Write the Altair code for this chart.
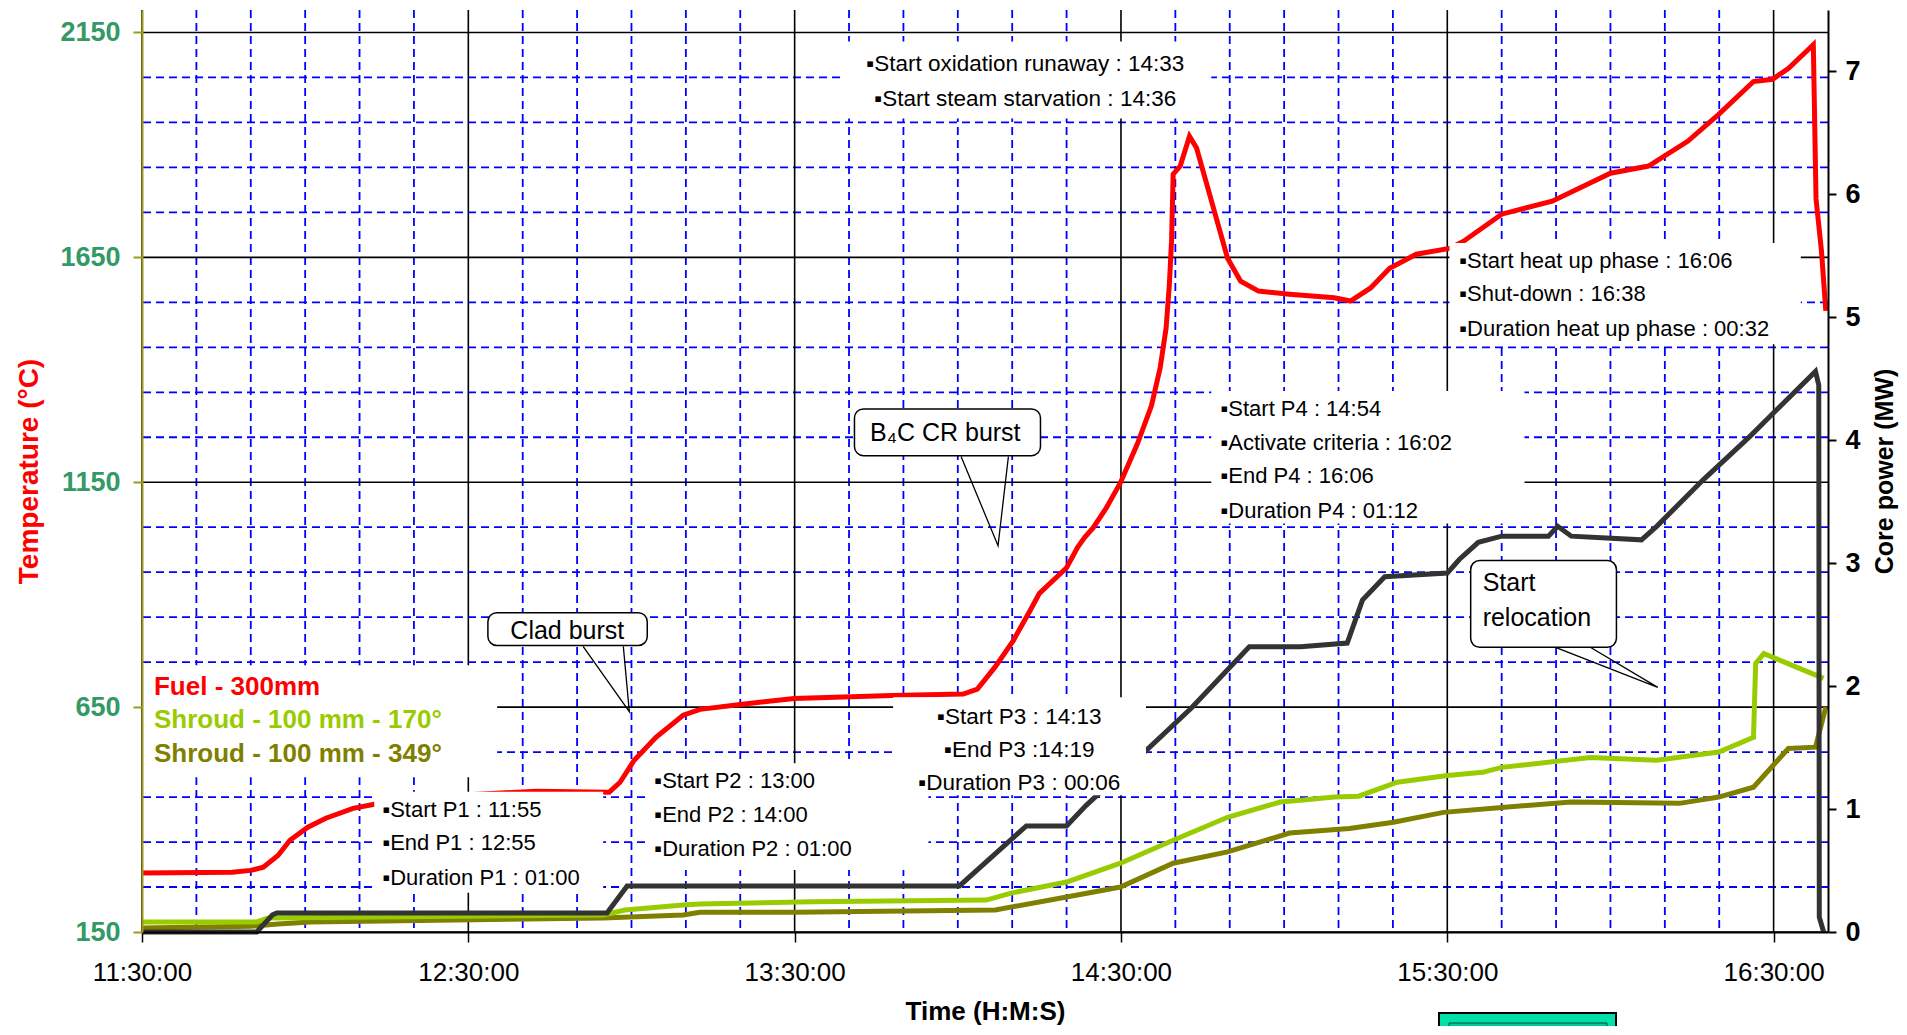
import json
import altair as alt
import pandas as pd

# ---------------- data (time = minutes after 11:30:00) ----------------
tick_minutes = [0, 60, 120, 180, 240, 300]
tick_labels = ["11:30:00", "12:30:00", "13:30:00", "14:30:00", "15:30:00", "16:30:00"]
temp_ticks = [150, 650, 1150, 1650, 2150]
power_ticks = [0, 1, 2, 3, 4, 5, 6, 7]

fuel_t = [0, 16.6, 20.0, 22.3, 25.0, 27.2, 30.5, 33.8, 38.8, 42.7, 50.0, 60.0, 72.5, 85.9, 87.9,
          90.5, 94.5, 99.5, 102.6, 110.0, 119.9, 137.9, 151.0, 153.6, 156.9, 160.2, 163.3, 165.0,
          170.0, 172.0, 173.3, 174.9, 177.3, 179.9, 183.0, 185.6, 187.2, 188.3, 188.9, 189.3, 189.6,
          190.9, 192.6, 193.9, 196.3, 199.6, 202.0, 205.3, 211.0, 219.2, 222.2, 225.9, 229.4, 234.3,
          240.4, 243.0, 250.0, 259.3, 270.0, 277.0, 284.2, 289.9, 296.3, 299.8, 302.7, 307.3, 307.8,
          308.8, 309.6]
fuel_v = [281, 283, 287, 294, 320, 354, 383, 403, 425, 434, 445, 455, 463, 461, 483,
          532, 583, 632, 645, 656, 669, 676, 679, 690, 740, 798, 865, 903,
          960, 1005, 1027, 1049, 1093, 1149, 1235, 1320, 1404, 1493, 1590, 1686, 1835,
          1853, 1919, 1893, 1790, 1648, 1597, 1575, 1568, 1560, 1553, 1582, 1626, 1657,
          1670, 1686, 1746, 1775, 1837, 1853, 1908, 1968, 2041, 2046, 2070, 2123, 1780,
          1664, 1531]

s170_t = [0, 21.0, 23.2, 84.8, 88.8, 99.5, 102.6, 123.2, 155.2, 160.0, 170.0, 179.9, 189.6, 199.6,
          209.3, 213.0, 219.2, 223.7, 230.8, 240.0, 246.5, 250.0, 266.3, 278.5, 289.9, 296.3, 296.7,
          298.2, 309.2]
s170_v = [172, 172, 181, 188, 199, 210, 212, 217, 221, 237, 261, 303, 354, 405,
          439, 443, 450, 452, 483, 498, 505, 516, 538, 532, 550, 583, 747,
          769, 714]

s349_t = [0, 20.0, 25.0, 31.0, 84.8, 99.5, 102.6, 119.9, 156.9, 170.0, 179.9, 189.6, 199.6, 211.0,
          222.0, 230.1, 239.3, 250.0, 262.8, 282.7, 289.9, 296.3, 302.7, 307.7, 309.6]
s349_v = [159, 163, 168, 172, 181, 188, 194, 194, 199, 228, 250, 303, 328, 370,
          380, 394, 416, 427, 439, 436, 450, 472, 558, 561, 650]

power_t = [0, 21.1, 24.0, 24.8, 85.5, 89.2, 150.3, 162.6, 170.0, 173.6, 184.7, 192.9, 203.6, 213.0,
           221.6, 224.4, 228.5, 240.0, 242.2, 245.7, 250.0, 258.6, 260.3, 262.8, 275.7, 278.5, 287.1,
           295.6, 307.7, 308.3, 308.4, 309.2]
power_v = [0, 0, 0.14, 0.155, 0.155, 0.375, 0.375, 0.863, 0.863, 1.03, 1.48, 1.82, 2.32, 2.32,
           2.35, 2.70, 2.89, 2.92, 3.03, 3.17, 3.22, 3.22, 3.30, 3.22, 3.19, 3.30, 3.68,
           4.03, 4.56, 4.45, 0.12, 0.0]

# white backgrounds of the text blocks (legend, P1, P2, P3, oxidation, P4, heat-up)
box_t1 = [0, 42.7, 92.9, 138.1, 128.8, 196.6, 240.4]
box_t2 = [65.3, 84.8, 144.6, 184.6, 196.6, 254.2, 305.0]
box_v1 = [494, 237, 288, 454, 1959, 1058, 1457]
box_v2 = [743, 462, 525, 672, 2130, 1353, 1682]

# callout bubbles
call_t1 = [63.6, 131.0, 244.3]
call_t2 = [92.9, 165.2, 271.1]
call_v1 = [787, 1209, 783]
call_v2 = [860, 1313, 976]
ptr_group = ["clad", "clad", "clad", "b4c", "b4c", "b4c", "reloc", "reloc", "reloc"]
ptr_t = [81.1, 89.6, 88.5, 150.6, 157.4, 159.3, 259.9, 278.7, 266.3]
ptr_v = [785, 640, 785, 1207, 1009, 1207, 783, 694, 783]

left_text = ["▪Start P1 : 11:55", "▪End P1 : 12:55", "▪Duration P1 : 01:00",
             "▪Start P2 : 13:00", "▪End P2 : 14:00", "▪Duration P2 : 01:00",
             "▪Start P4 : 14:54", "▪Activate criteria : 16:02", "▪End P4 : 16:06", "▪Duration P4 : 01:12",
             "▪Start heat up phase : 16:06", "▪Shut-down : 16:38", "▪Duration heat up phase : 00:32"]
left_t = [44.2, 44.2, 44.2, 94.2, 94.2, 94.2, 198.3, 198.3, 198.3, 198.3, 242.2, 242.2, 242.2]
left_v = [421, 348, 270, 485, 410, 334, 1313, 1238, 1164, 1087, 1642, 1568, 1491]

center_text = ["▪Start oxidation runaway : 14:33", "▪Start steam starvation : 14:36",
               "▪Start P3 : 14:13", "▪End P3 :14:19", "▪Duration P3 : 00:06"]
center_t = [162.4, 162.4, 161.3, 161.3, 161.3]
center_v = [2079, 2003, 627, 554, 481]

callc_text = ["Clad burst", "B\u2084C CR burst"]
callc_t = [78.2, 147.7]
callc_v = [820, 1260]
calll_text = ["Start", "relocation"]
calll_t = [246.5, 246.5]
calll_v = [925, 849]

legend_text = ["Fuel - 300mm", "Shroud - 100 mm - 170°", "Shroud - 100 mm - 349°"]
legend_color = ["#ff0000", "#99cc00", "#808000"]
legend_t = [2.2, 2.2, 2.2]
legend_v = [694, 621, 545]

# ---------------- layout ----------------
W, H = 1686, 922
FONT = "Liberation Sans"
ANN_FONT = "Liberation Sans"

minor_t = [m for m in range(10, 310, 10) if m % 60 != 0]
minor_v = [v for v in range(250, 2200, 100) if (v - 150) % 500 != 0]

xs = alt.Scale(domain=[0, 310], nice=False, zero=False)
ts = alt.Scale(domain=[150, 2200], nice=False, zero=False)
ps = alt.Scale(domain=[0, 7.5], nice=False, zero=False)

x_axis = alt.Axis(values=tick_minutes,
                  labelExpr=json.dumps(tick_labels) + "[round(datum.value/60)]",
                  labelFont=FONT, labelFontSize=26, labelColor="black", labelPadding=17,
                  labelFlush=False,
                  tickSize=10, tickColor="black", tickWidth=1.5,
                  domainColor="black", domainWidth=2, grid=False,
                  title="Time (H:M:S)", titleFont=FONT, titleFontSize=26, titleFontWeight="bold",
                  titleColor="black", titlePadding=13, zindex=1)
left_axis = alt.Axis(orient="left", values=temp_ticks, format="d",
                     labelFont=FONT, labelFontSize=27, labelFontWeight="bold", labelColor="#339966",
                     labelPadding=13, tickSize=9, tickColor="#9c9a1c", tickWidth=2,
                     domainColor="#9c9a1c", domainWidth=2, grid=False,
                     title="Temperature (°C)", titleFont=FONT, titleFontSize=28,
                     titleFontWeight="bold", titleColor="#ff0000", titlePadding=16, zindex=1)
right_axis = alt.Axis(orient="right", values=power_ticks, format="d",
                      labelFont=FONT, labelFontSize=27, labelFontWeight="bold", labelColor="black",
                      labelPadding=9, tickSize=8, tickColor="black", tickWidth=2,
                      domainColor="black", domainWidth=2, grid=False,
                      title="Core power (MW)", titleFont=FONT, titleFontSize=25,
                      titleFontWeight="bold", titleColor="black", titleAngle=270,
                      titleBaseline="top", titlePadding=12, zindex=1)


def X(f="t"):
    return alt.X(f"{f}:Q", scale=xs, axis=x_axis)


def YT(f="v"):
    return alt.Y(f"{f}:Q", scale=ts, axis=left_axis)


def YO(f="v"):
    return alt.Y(f"{f}:Q", scale=ts, axis=None)


def series_df(ts_, vs_):
    return pd.DataFrame({"t": ts_, "v": vs_, "i": list(range(len(ts_)))})


# ---- base group (temperature scale, with left axis) ----
vminor = alt.Chart(pd.DataFrame({"t": minor_t})).mark_rule(
    color="#0000ff", strokeDash=[8, 5], strokeWidth=1.8).encode(x=X())
hminor = alt.Chart(pd.DataFrame({"v": minor_v})).mark_rule(
    color="#0000ff", strokeDash=[8, 5], strokeWidth=1.8).encode(y=YT())
vmajor = alt.Chart(pd.DataFrame({"t": tick_minutes})).mark_rule(
    color="black", strokeWidth=1.6).encode(x=X())
hmajor = alt.Chart(pd.DataFrame({"v": temp_ticks})).mark_rule(
    color="black", strokeWidth=1.6).encode(y=YT())

olive = alt.Chart(series_df(s349_t, s349_v)).mark_line(color="#808000", strokeWidth=5).encode(
    x=X(), y=YT(), order="i:Q")
green = alt.Chart(series_df(s170_t, s170_v)).mark_line(color="#99cc00", strokeWidth=5).encode(
    x=X(), y=YT(), order="i:Q")
fuel = alt.Chart(series_df(fuel_t, fuel_v)).mark_line(color="#ff0000", strokeWidth=5).encode(
    x=X(), y=YT(), order="i:Q")

base = alt.layer(vminor, hminor, vmajor, hmajor, olive, green, fuel)

# ---- power (right axis) ----
power = alt.Chart(pd.DataFrame({"t": power_t, "p": power_v, "i": list(range(len(power_t)))})).mark_line(
    color="#333333", strokeWidth=5).encode(
    x=X(), y=alt.Y("p:Q", scale=ps, axis=right_axis), order="i:Q")

# ---- overlay (annotations on temperature scale, no axis) ----
boxes = alt.Chart(pd.DataFrame({"t1": box_t1, "t2": box_t2, "v1": box_v1, "v2": box_v2})).mark_rect(
    fill="white").encode(x=X("t1"), x2="t2:Q", y=YO("v1"), y2="v2:Q")
bubbles = alt.Chart(pd.DataFrame({"t1": call_t1, "t2": call_t2, "v1": call_v1, "v2": call_v2})).mark_rect(
    fill="white", stroke="black", strokeWidth=1.5, cornerRadius=9).encode(
    x=X("t1"), x2="t2:Q", y=YO("v1"), y2="v2:Q")
pointers = alt.Chart(pd.DataFrame({"t": ptr_t, "v": ptr_v, "g": ptr_group,
                                   "o": [0, 1, 2] * 3})).mark_line(
    color="black", strokeWidth=1.3).encode(x=X(), y=YO(), detail="g:N", order="o:Q")
ltext = alt.Chart(pd.DataFrame({"t": left_t, "v": left_v, "s": left_text})).mark_text(
    align="left", baseline="middle", font=ANN_FONT, fontSize=22, color="black").encode(
    x=X(), y=YO(), text="s:N")
ctext = alt.Chart(pd.DataFrame({"t": center_t, "v": center_v, "s": center_text})).mark_text(
    align="center", baseline="middle", font=ANN_FONT, fontSize=22.5, color="black").encode(
    x=X(), y=YO(), text="s:N")
cctext = alt.Chart(pd.DataFrame({"t": callc_t, "v": callc_v, "s": callc_text})).mark_text(
    align="center", baseline="middle", font=ANN_FONT, fontSize=25, color="black").encode(
    x=X(), y=YO(), text="s:N")
cltext = alt.Chart(pd.DataFrame({"t": calll_t, "v": calll_v, "s": calll_text})).mark_text(
    align="left", baseline="middle", font=ANN_FONT, fontSize=25, color="black").encode(
    x=X(), y=YO(), text="s:N")
legend = alt.Chart(pd.DataFrame({"t": legend_t, "v": legend_v, "s": legend_text,
                                 "c": legend_color})).mark_text(
    align="left", baseline="middle", font=FONT, fontSize=26, fontWeight="bold").encode(
    x=X(), y=YO(), text="s:N", color=alt.Color("c:N", scale=None))

one = pd.DataFrame({"k": [0]})
btn_outer = alt.Chart(one).mark_rect(fill="#00e0a8", stroke="black", strokeWidth=2).encode(
    x=alt.value(1297), x2=alt.value(1474), y=alt.value(1003), y2=alt.value(1045))
btn_inner = alt.Chart(one).mark_rect(fill="#00cc99", stroke="#004d38", strokeWidth=1).encode(
    x=alt.value(1307), x2=alt.value(1465), y=alt.value(1013), y2=alt.value(1045))

overlay = alt.layer(boxes, bubbles, pointers, ltext, ctext, cctext, cltext, legend,
                    btn_outer, btn_inner)

chart = alt.layer(base, power, overlay).resolve_scale(y="independent").properties(
    width=W, height=H,
    padding={"left": 134, "top": 2, "right": 71, "bottom": 94},
    autosize=alt.AutoSizeParams(type="none"),
    background="white",
).configure_view(stroke=None)

chart.save("out.html", embed_options={"renderer": "svg", "actions": False})
